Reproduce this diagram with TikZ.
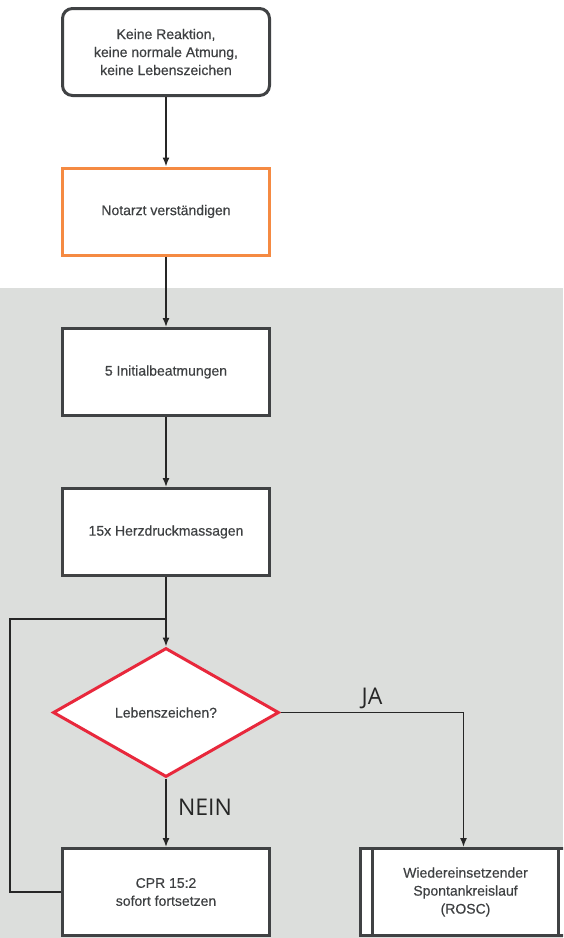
\documentclass[tikz,border=0pt]{standalone}
\usepackage{fontspec}
\setmainfont{Liberation Sans}
\newfontfamily\boxfont[FakeBold=0.35]{Liberation Sans}
\newfontfamily\labelfont{Open Sans}
\usetikzlibrary{shapes.geometric,arrows.meta}
\definecolor{boxgray}{HTML}{404244}
\definecolor{txtgray}{HTML}{3E4042}
\definecolor{bggray}{HTML}{DCDEDC}
\definecolor{orangec}{HTML}{F58A42}
\definecolor{redc}{HTML}{E8283C}
\tikzset{
  boxtext/.style={font=\boxfont\fontsize{14}{18}\selectfont, text=txtgray},
  stepbox/.style={draw=boxgray, line width=3pt, fill=white, minimum width=207pt, minimum height=87pt, inner sep=0pt, align=center, boxtext},
  conn/.style={draw=black!85, line width=1.4pt},
  arr/.style={conn, -{Latex[length=9pt,width=7pt]}},
  bigl/.style={font=\labelfont\fontsize{23}{26}\selectfont, text=black!85}
}
\begin{document}
\begin{tikzpicture}[x=1pt,y=-1pt]
\useasboundingbox (0,0) rectangle (563,938);
\clip (0,0) rectangle (563,938);
\fill[bggray] (0,288) rectangle (563,938);
\node[stepbox, rounded corners=10pt] (b1) at (166,52) {Keine Reaktion,\\keine normale Atmung,\\keine Lebenszeichen};
\node[stepbox, draw=orangec] (b2) at (166,211.5) {Notarzt verständigen};
\node[stepbox] (b3) at (166,372) {5 Initialbeatmungen};
\node[stepbox] (b4) at (166,532) {15x Herzdruckmassagen};
\node[diamond, draw=redc, line width=3pt, fill=white, minimum width=226pt, minimum height=129pt, inner sep=0pt, aspect=1.75, boxtext] (d) at (166,712.5) {Lebenszeichen?};
\node[stepbox] (b5) at (166,892) {CPR 15:2\\sofort fortsetzen};
\node[stepbox, minimum width=211pt] (b6) at (465.5,892) {Wiedereinsetzender\\Spontankreislauf\\(ROSC)};
\draw[boxgray, line width=3pt] ([xshift=14pt]b6.north west) -- ([xshift=14pt]b6.south west);
\draw[boxgray, line width=3pt] ([xshift=-14pt]b6.north east) -- ([xshift=-14pt]b6.south east);
\coordinate (j) at (166,619);
\draw[arr] (b1.south) -- (b2.north);
\draw[arr] (b2.south) -- (b3.north);
\draw[arr] (b3.south) -- (b4.north);
\draw[conn] (b4.south) -- (j);
\draw[arr] (j) -- (d.north);
\draw[arr] (d.south) -- (b5.north);
\draw[conn] (b5.west) -| (10,619) -- (j);
\draw[arr] (d.east) -| ([xshift=-2pt]b6.north);
\node[bigl, anchor=base] (ja) at (372,704) {JA};
\node[bigl, anchor=base] (nein) at (205,815) {NEIN};
\end{tikzpicture}
\end{document}
